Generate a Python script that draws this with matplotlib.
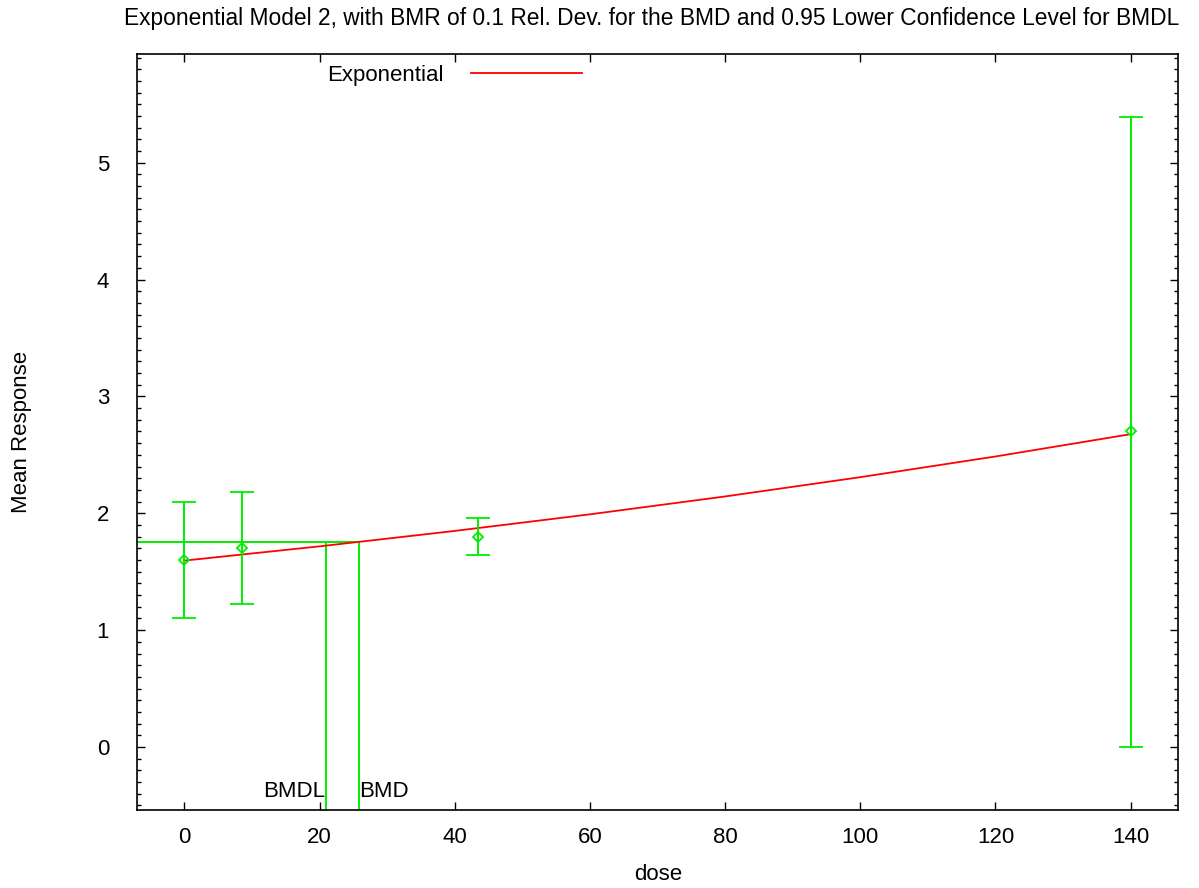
import matplotlib
matplotlib.use("Agg")
import matplotlib.pyplot as plt
from matplotlib.ticker import MultipleLocator, FixedLocator

plt.rcParams['font.family'] = ['Liberation Sans', 'DejaVu Sans']

# Observed data
dose = [0, 8.6, 43.4, 140]
mean = [1.6, 1.7, 1.8, 2.7]
err_lo = [1.10, 1.22, 1.64, 0.0]
err_hi = [2.10, 2.18, 1.96, 5.39]

# Fitted exponential model curve
curve_dose = [0, 20, 40, 60, 80, 100, 120, 140]
curve_resp = [1.595, 1.717, 1.849, 1.991, 2.144, 2.309, 2.486, 2.677]

# Benchmark values
bmd = 25.8
bmdl = 20.9
bmr_resp = 1.7545

title = "Exponential Model 2, with BMR of 0.1 Rel. Dev. for the BMD and 0.95 Lower Confidence Level for BMDL"
x_ticks = [0, 20, 40, 60, 80, 100, 120, 140]
y_ticks = [0, 1, 2, 3, 4, 5]

W, H = 1199, 888
fig = plt.figure(figsize=(W / 100, H / 100), dpi=100)
L, R, T, B = 137, 1178, 54, 810
ax = fig.add_axes([L / W, 1 - B / H, (R - L) / W, (B - T) / H])

xlo, xhi = -7, 147
ylo, yhi = -0.539, 5.93
ax.set_xlim(xlo, xhi)
ax.set_ylim(ylo, yhi)

green = '#00ee00'
red = '#ff0000'

# BMD lines
ax.hlines(bmr_resp, xlo, bmd, color=green, lw=1.4, zorder=2)
ax.vlines([bmdl, bmd], ylo, bmr_resp, color=green, lw=1.4, zorder=2)

# Model curve
line, = ax.plot(curve_dose, curve_resp, color=red, lw=1.3, zorder=3, label='Exponential')

# Error bars
yerr = [[m - lo for m, lo in zip(mean, err_lo)], [hi - m for m, hi in zip(mean, err_hi)]]
ax.errorbar(dose, mean, yerr=yerr, fmt='D', ms=5.5, mfc='none', mec=green, mew=1.3,
            ecolor=green, elinewidth=1.4, capsize=8.6, capthick=1.4, zorder=4)

ax.text(bmdl, -0.428, 'BMDL', ha='right', va='baseline', fontsize=16)
ax.text(bmd, -0.428, 'BMD', ha='left', va='baseline', fontsize=16)

ax.xaxis.set_major_locator(FixedLocator(x_ticks))
ax.yaxis.set_major_locator(FixedLocator(y_ticks))
ax.yaxis.set_minor_locator(MultipleLocator(0.1))
ax.tick_params(axis='both', which='both', direction='in', top=True, right=True,
               labelsize=16, colors='black')
ax.tick_params(axis='both', which='major', length=6, width=1)
ax.tick_params(axis='y', which='minor', length=3, width=1)
ax.tick_params(axis='x', which='major', pad=12)
ax.tick_params(axis='y', which='major', pad=20)
for s in ax.spines.values():
    s.set_linewidth(1.2)

fig.text(652 / W, 1 - 19 / H, title, ha='center', va='center', fontsize=16.4)
fig.text(22 / W, 1 - 432 / H, 'Mean Response', ha='center', va='center', rotation=90, fontsize=16)
fig.text(658 / W, 1 - 874 / H, 'dose', ha='center', va='center', fontsize=16)

leg = ax.legend(handles=[line], loc='center left', bbox_to_anchor=(327 / W, 1 - 75 / H),
                bbox_transform=fig.transFigure, frameon=False, markerfirst=False,
                handlelength=5.0, handletextpad=1.25, borderpad=0, borderaxespad=0,
                fontsize=16)

fig.savefig('out.png', dpi=100)
